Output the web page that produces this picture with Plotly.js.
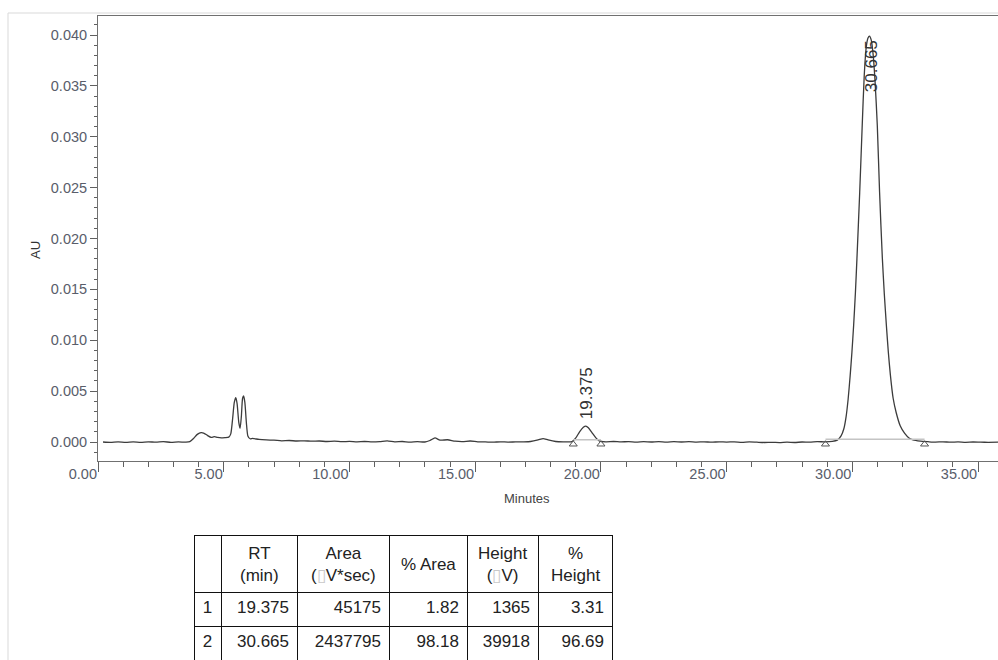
<!DOCTYPE html>
<html>
<head>
<meta charset="utf-8">
<script src="https://cdn.plot.ly/plotly-3.0.1.min.js"></script>
<style>
  html, body { margin: 0; padding: 0; background: #ffffff; }
  #chart { width: 998px; height: 660px; }
</style>
</head>
<body>
<div id="chart"></div>
<script>
// ---- Chromatogram trace (Minutes vs AU) ----
const timeMin = [
  0.2, 0.5, 0.8, 1.1, 1.4, 1.7, 2.0, 2.3, 2.6, 2.9, 3.2, 3.5, 3.65, 3.8, 3.95,
  4.1, 4.2, 4.35, 4.5, 4.62, 4.75, 4.9, 5.05, 5.2, 5.28, 5.35, 5.42, 5.48, 5.53,
  5.60, 5.65, 5.70, 5.75, 5.79, 5.84, 5.90, 5.96, 6.05, 6.15, 6.4, 6.7, 7.0, 7.3,
  7.6, 7.9, 8.2, 8.5, 8.8, 9.1, 9.4, 9.7, 10.0, 10.3, 10.6, 10.9, 11.2, 11.5,
  11.8, 12.1, 12.4, 12.7, 13.0, 13.2, 13.4, 13.6, 13.9, 14.2, 14.5, 14.8, 15.1,
  15.4, 15.7, 16.0, 16.3, 16.6, 16.9, 17.2, 17.5, 17.7, 17.9, 18.2, 18.5, 18.85,
  19.0, 19.15, 19.3, 19.4, 19.5, 19.65, 19.8, 19.95, 20.2, 20.5, 20.8, 21.1,
  21.4, 21.7, 22.0, 22.3, 22.6, 22.9, 23.2, 23.5, 23.8, 24.1, 24.4, 24.7, 25.0,
  25.3, 25.6, 25.9, 26.2, 26.5, 26.8, 27.1, 27.4, 27.7, 28.0, 28.3, 28.6, 28.9,
  29.2, 29.40, 29.55, 29.66, 29.75, 29.83, 29.91, 29.98, 30.05, 30.12, 30.18,
  30.29, 30.39, 30.47, 30.55, 30.62, 30.68, 30.75, 30.82, 30.90, 30.99, 31.08,
  31.19, 31.27, 31.35, 31.43, 31.51, 31.62, 31.74, 31.90, 32.08, 32.25, 32.41,
  32.70, 33.0, 33.3, 33.6, 33.9, 34.2, 34.5, 34.8, 35.1, 35.4, 35.8
];
const absAU = [
  0.00000, -0.00003, 0.00002, -0.00004, 0.00001, -0.00003, 0.00002, -0.00002,
  0.00003, -0.00003, 0.00001, -0.00002, 0.00003, 0.00035, 0.00075,
  0.00092, 0.00088, 0.00065, 0.00045, 0.00052, 0.00045, 0.00040, 0.00043, 0.00048,
  0.00080, 0.00220, 0.00390, 0.00436, 0.00380,
  0.00190, 0.00134, 0.00250, 0.00430, 0.00452, 0.00390, 0.00190, 0.00060, 0.00032,
  0.00035, 0.00025, 0.00020, 0.00018, 0.00012,
  0.00015, 0.00010, 0.00012, 0.00008, 0.00010, 0.00005, 0.00008, 0.00003, 0.00006,
  0.00002, 0.00005, 0.00001, 0.00004, 0.00012,
  0.00002, 0.00005, -0.00001, 0.00004, 0.00000, 0.00015, 0.00040, 0.00018, 0.00022,
  0.00008, 0.00004, 0.00010, 0.00002,
  0.00001, -0.00002, 0.00002, -0.00001, 0.00001, 0.00002, 0.00005, 0.00020, 0.00034,
  0.00020, 0.00005, 0.00002, 0.00004,
  0.00040, 0.00100, 0.00145, 0.00157, 0.00140, 0.00090, 0.00040, 0.00008, 0.00002,
  0.00005, 0.00001, 0.00004,
  -0.00001, 0.00003, 0.00000, 0.00004, -0.00002, 0.00003, 0.00000, 0.00003, -0.00001,
  0.00002, -0.00002, 0.00002, -0.00001,
  0.00002, -0.00003, 0.00001, -0.00002, -0.00005, -0.00003, -0.00006, -0.00002,
  -0.00005, 0.00000, -0.00002, 0.00003, 0.00002,
  0.00006, 0.00018, 0.00060, 0.00130, 0.00250, 0.00420, 0.00650, 0.00880, 0.01150,
  0.01470, 0.01800,
  0.02450, 0.03110, 0.03600, 0.03880, 0.03970, 0.03990, 0.03950, 0.03820, 0.03550,
  0.03110, 0.02460,
  0.01810, 0.01450, 0.01150, 0.00880, 0.00660, 0.00430, 0.00290, 0.00160, 0.00085,
  0.00040, 0.00020,
  0.00008, 0.00003, -0.00001, 0.00002, -0.00002, 0.00001, -0.00003, 0.00000,
  -0.00002, -0.00003, -0.00002
];

// ---- Integration events (peak start / end and baseline level) ----
const peakStart = [18.9, 28.93];
const peakEnd = [20.0, 32.87];
const baselineAU = [0.00022, 0.00026];
const markerAU = -0.00022;

// ---- Peak table ----
const tableHeader = ["", "RT<br>(min)", "Area<br>(<span style=\"color:#c8c8c8\">\u25AF</span>V*sec)", "% Area",
                     "Height<br>(<span style=\"color:#c8c8c8\">\u25AF</span>V)", "%<br>Height"];
const peakNo = ["1", "2"];
const rtMin = ["19.375", "30.665"];
const areaUVs = ["45175", "2437795"];
const pctArea = ["1.82", "98.18"];
const heightUV = ["1365", "39918"];
const pctHeight = ["3.31", "96.69"];

// ---- Axis ticks ----
const xTickStep = 5, xMinorStep = 1;
const yTickStep = 0.005, yMinorStep = 0.001;

const FONT = "Liberation Sans, Arial, Helvetica, sans-serif";
const W = 998, H = 660;

// table geometry (pixels)
const tableLeft = 194, tableTop = 535, headerH = 57, rowH = 34;
const colW = [27, 76, 92, 78, 71, 74];

const traces = [];
traces.push({
  type: "scatter", mode: "lines", x: timeMin, y: absAU,
  line: { color: "#3c3c3c", width: 1.3, shape: "spline", smoothing: 0.6 },
  hoverinfo: "skip", showlegend: false
});
for (let i = 0; i < peakStart.length; i++) {
  traces.push({
    type: "scatter", mode: "lines",
    x: [peakStart[i], peakEnd[i]], y: [baselineAU[i], baselineAU[i]],
    line: { color: "#c4c4c4", width: 1.5 }, hoverinfo: "skip", showlegend: false
  });
}
traces.push({
  type: "scatter", mode: "markers",
  x: peakStart.concat(peakEnd), y: peakStart.concat(peakEnd).map(() => markerAU),
  marker: { symbol: "triangle-up-open", size: 7, color: "#555", line: { width: 1, color: "#555" } },
  hoverinfo: "skip", showlegend: false
});

const tableWidth = colW.reduce((a, b) => a + b, 0);
traces.push({
  type: "table",
  domain: { x: [tableLeft / W, (tableLeft + tableWidth) / W], y: [0, (H - tableTop) / H] },
  columnwidth: colW,
  header: {
    values: tableHeader.map(() => ""),
    align: "center",
    height: headerH,
    line: { color: "#111", width: 1 },
    fill: { color: "#ffffff" },
    font: { family: FONT, size: 17, color: "#222" }
  },
  cells: {
    values: [peakNo, rtMin, areaUVs, pctArea, heightUV, pctHeight],
    align: ["center", "right", "right", "right", "right", "right"],
    height: rowH,
    line: { color: "#111", width: 1 },
    fill: { color: "#ffffff" },
    font: { family: FONT, size: 17, color: "#222" }
  }
});

// header texts as centred annotations (lines centred like the reference)
const headerAnnotations = [];
let cx = tableLeft;
for (let i = 0; i < colW.length; i++) {
  const centre = cx + colW[i] / 2;
  cx += colW[i];
  if (!tableHeader[i]) continue;
  headerAnnotations.push({
    text: tableHeader[i], x: centre / W, y: (H - (tableTop + headerH / 2 + 1)) / H,
    xref: "paper", yref: "paper", xanchor: "center", yanchor: "middle", align: "center",
    showarrow: false, font: { family: FONT, size: 17, color: "#222" }
  });
}

const layout = {
  width: W, height: H,
  margin: { l: 0, r: 0, t: 0, b: 0 },
  paper_bgcolor: "#ffffff", plot_bgcolor: "#ffffff",
  font: { family: FONT, color: "#333" },
  showlegend: false,
  xaxis: {
    domain: [98 / W, 1],
    range: [0, 35.79],
    showline: true, linecolor: "#707070", linewidth: 1, mirror: true,
    ticks: "outside", ticklen: 10, tickcolor: "#606060", tickwidth: 1,
    tick0: 0, dtick: xTickStep, tickformat: ".2f",
    ticklabelposition: "outside left",
    tickfont: { family: FONT, size: 14.5, color: "#595d6a" },
    minor: { tick0: 0, dtick: xMinorStep, ticks: "outside", ticklen: 5, tickcolor: "#606060", showgrid: false },
    showgrid: false, zeroline: false, fixedrange: true
  },
  yaxis: {
    domain: [(H - 461) / H, (H - 16) / H],
    range: [-0.001867, 0.04187],
    showline: true, linecolor: "#707070", linewidth: 1,
    ticks: "outside", ticklen: 7, tickcolor: "#606060", tickwidth: 1,
    tick0: 0, dtick: yTickStep, tickformat: ".3f",
    tickfont: { family: FONT, size: 14.5, color: "#595d6a" },
    minor: { tick0: 0, dtick: yMinorStep, ticks: "outside", ticklen: 3, tickcolor: "#606060", showgrid: false },
    showgrid: false, zeroline: false, fixedrange: true
  },
  annotations: [
    { text: rtMin[0], x: Number(rtMin[0]), y: 0.00482, xref: "x", yref: "y", xshift: 2,
      xanchor: "center", yanchor: "middle",
      textangle: -90, showarrow: false, font: { family: FONT, size: 17, color: "#333" } },
    { text: rtMin[1], x: Number(rtMin[1]), y: 0.03695, xref: "x", yref: "y", xshift: 2,
      xanchor: "center", yanchor: "middle",
      textangle: -90, showarrow: false, font: { family: FONT, size: 17, color: "#333" } },
    { text: "AU", x: 35 / W, y: (H - 250) / H, xref: "paper", yref: "paper",
      xanchor: "center", yanchor: "middle",
      textangle: -90, showarrow: false, font: { family: FONT, size: 13, color: "#333" } },
    { text: "Minutes", x: 527 / W, y: (H - 498) / H, xref: "paper", yref: "paper",
      xanchor: "center", yanchor: "middle",
      showarrow: false, font: { family: FONT, size: 13, color: "#444" } }
  ].concat(headerAnnotations),
  shapes: [
    { type: "line", xref: "paper", yref: "paper", x0: 8 / W, x1: 1, y0: (H - 13) / H, y1: (H - 13) / H,
      line: { color: "#d9d9d9", width: 1 } },
    { type: "line", xref: "paper", yref: "paper", x0: 8 / W, x1: 8 / W, y0: 0, y1: (H - 13) / H,
      line: { color: "#d9d9d9", width: 1 } }
  ]
};

Plotly.newPlot("chart", traces, layout, { staticPlot: true, displayModeBar: false });
</script>
</body>
</html>
